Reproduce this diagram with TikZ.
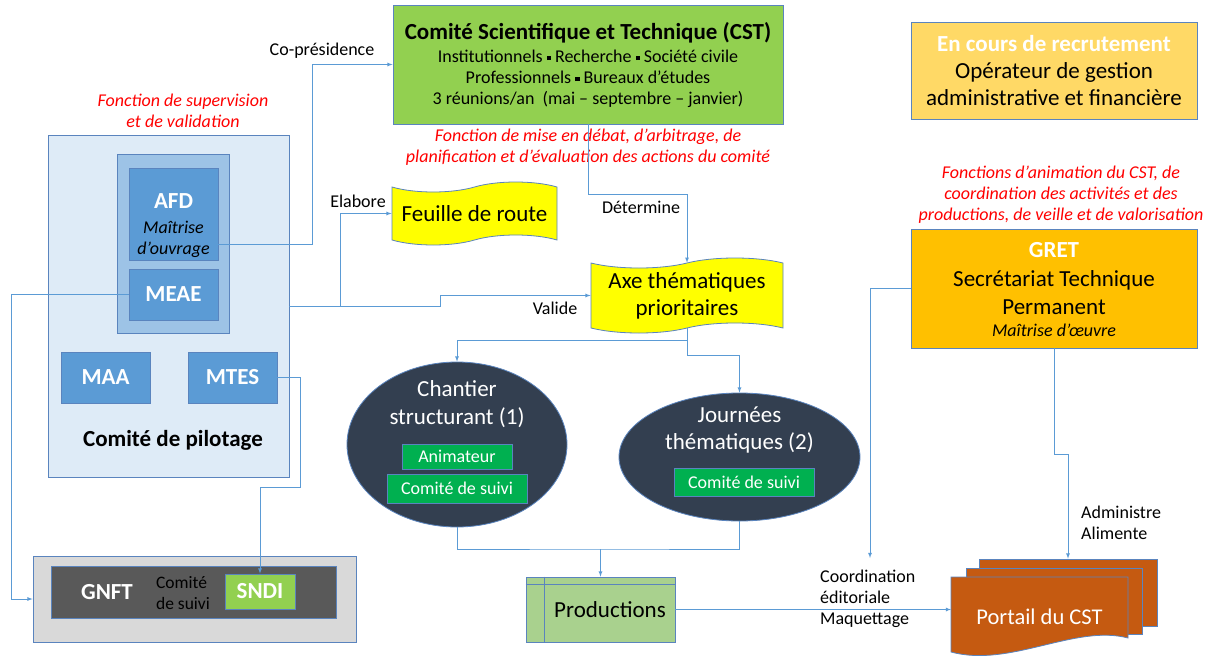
\documentclass[tikz,border=0pt]{standalone}
\usepackage{fontspec}
\setmainfont{Carlito}
\usetikzlibrary{shapes,backgrounds,arrows,positioning}

\definecolor{bord}{RGB}{90,132,190}
\definecolor{bleulien}{RGB}{91,155,213}
\definecolor{copilfond}{RGB}{222,235,247}
\definecolor{copilmid}{RGB}{157,195,230}
\definecolor{bleu}{RGB}{91,155,213}
\definecolor{vert}{RGB}{146,208,80}
\definecolor{jaune}{RGB}{255,255,0}
\definecolor{marine}{RGB}{51,63,80}
\definecolor{vertfonce}{RGB}{0,176,80}
\definecolor{vertclair}{RGB}{169,209,142}
\definecolor{orange}{RGB}{197,90,17}
\definecolor{ambre}{RGB}{255,192,0}
\definecolor{jaunepale}{RGB}{255,217,102}
\definecolor{grisclair}{RGB}{217,217,217}
\definecolor{grisfonce}{RGB}{89,89,89}

\newcommand\carre{\raisebox{2pt}{\rule{4.2pt}{4.2pt}}}

\tikzset{
  boite/.style={draw=bord,line width=0.8pt,inner sep=0pt,align=center},
  lien/.style={draw=bleulien,line width=0.8pt},
  fleche/.style={lien,-latex},
  texte/.style={inner sep=0pt,font=\fontsize{18}{21}\selectfont},
  grand/.style={inner sep=0pt,align=center,font=\fontsize{23}{27}\selectfont},
  gras/.style={inner sep=0pt,font=\bfseries\fontsize{23}{27}\selectfont},
  blanc/.style={gras,text=white},
  rouge/.style={inner sep=0pt,align=center,text=red,font=\itshape\fontsize{18}{21}\selectfont},
  italique/.style={inner sep=0pt,align=center,font=\itshape\fontsize{18}{21}\selectfont},
}

\begin{document}
\begin{tikzpicture}[x=1pt,y=-1pt]
\path[use as bounding box,fill=white] (0,0) rectangle (1211,656);

% comite de pilotage
\node[boite,fill=copilfond,minimum width=241pt,minimum height=342pt] (copil) at (168.5,306) {};
\node[boite,fill=copilmid,minimum width=112pt,minimum height=179pt] (copilin) at (173,243.5) {};
\node[boite,fill=bleu,minimum width=89pt,minimum height=92pt] (AFD) at (173.5,214) {};
\node[blanc] (AFD-t) at (173.5,201) {AFD};
\node[italique] (AFD-m) at (173.5,239.5) {Maîtrise\\d’ouvrage};
\foreach \x/\y/\name in {173.5/294.5/MEAE,105.5/377.5/MAA,232.5/377.5/MTES}{
    \node[boite,fill=bleu,minimum width=89pt,minimum height=51pt,blanc,name=\name] at (\x,\y) {\name};
}
\node[gras] (copil-t) at (173,440) {Comité de pilotage};
\node[rouge] (copil-r) at (183,110.5) {Fonction de supervision\\et de validation};

% CST
\node[boite,fill=vert,minimum width=390pt,minimum height=119pt] (CST) at (588,64.5) {};
\node[gras] (CST-t) at (588,33) {Comité Scientifique et Technique (CST)};
\node[texte,align=center] (CST-m) at (588,78.5) {Institutionnels \carre{} Recherche \carre{} Société civile\\Professionnels \carre{} Bureaux d’études\\3 réunions/an~ (mai – septembre – janvier)};
\node[rouge] (CST-r) at (588,147.5) {Fonction de mise en débat, d’arbitrage, de\\planification et d’évaluation des actions du comité};

% feuille de route, axes
\node[tape,boite,fill=jaune,minimum width=165pt,minimum height=63pt,tape bend height=10pt,grand] (feuille) at (474.5,213.5) {Feuille de route};
\node[tape,boite,fill=jaune,minimum width=192pt,minimum height=75pt,tape bend height=10pt,grand] (axe) at (687,295.5) {Axe thématiques\\prioritaires};

% chantiers
\node[ellipse,draw=bord,line width=0.8pt,fill=marine,minimum width=220pt,minimum height=165pt] (chantier) at (457,444.5) {};
\node[grand,text=white,font=\fontsize{23}{28}\selectfont] (chantier-t) at (457,404) {Chantier\\structurant (1)};
\node[boite,fill=vertfonce,text=white,texte,minimum width=110pt,minimum height=25pt] (animateur) at (457,456.5) {Animateur};
\node[boite,fill=vertfonce,text=white,texte,minimum width=140pt,minimum height=29pt] (suivi1) at (457,488.5) {Comité de suivi};
\node[ellipse,draw=bord,line width=0.8pt,fill=marine,minimum width=241pt,minimum height=128pt] (journees) at (739.5,457) {};
\node[grand,text=white] (journees-t) at (739.5,429.5) {Journées\\thématiques (2)};
\node[boite,fill=vertfonce,text=white,texte,minimum width=140pt,minimum height=28pt] (suivi2) at (744,482) {Comité de suivi};

% productions
\node[boite,fill=vertclair,minimum width=149pt,minimum height=65pt,font=\fontsize{23}{27}\selectfont] (prod) at (600.5,609.5) {\hspace*{19pt}Productions};
\draw[bord,line width=0.8pt] ([yshift=-8pt]prod.north west) -- ([yshift=-8pt]prod.north east);
\draw[bord,line width=0.8pt] ([xshift=19pt]prod.north west) -- ([xshift=19pt]prod.south west);

% portail
\node[boite,fill=orange,minimum width=178pt,minimum height=67pt] (portailc) at (1068,592.5) {};
\node[boite,fill=orange,minimum width=176pt,minimum height=66pt] (portailb) at (1054,601) {};
\coordinate (pa) at (951,577);
\coordinate (pb) at (1128,577);
\draw[bord,line width=0.8pt,fill=orange] (pa) -- (pb) -- (1128,638) .. controls (1075,624) and (1010,668) .. (951,652) -- cycle;
\node[grand,text=white,font=\fontsize{22.5}{27}\selectfont] (portail) at (1039.5,617) {Portail du CST};

% GRET, recrutement
\node[boite,fill=jaunepale,minimum width=286pt,minimum height=97pt] (recrut) at (1054,70.5) {};
\node[blanc] (recrut-t) at (1054,44) {En cours de recrutement};
\node[grand] (recrut-m) at (1054,84.5) {Opérateur de gestion\\administrative et financière};
\node[boite,fill=ambre,minimum width=286pt,minimum height=119pt] (GRET) at (1054,288.5) {};
\node[blanc] (GRET-t) at (1054,250) {GRET};
\node[grand,font=\fontsize{23}{28}\selectfont] (GRET-m) at (1054,293) {Secrétariat Technique\\Permanent};
\node[italique] (GRET-i) at (1054,330) {Maîtrise d’œuvre};
\node[rouge] (GRET-r) at (1061,195) {Fonctions d’animation du CST, de\\coordination des activités et des\\productions, de veille et de valorisation};

% GNFT
\node[boite,fill=grisclair,minimum width=323pt,minimum height=86pt] (gnftout) at (194.5,599) {};
\node[boite,fill=grisfonce,minimum width=285pt,minimum height=52pt] (gnftin) at (193.5,592) {};
\node[blanc] (GNFT) at (107,592) {GNFT};
\node[texte,align=left,font=\fontsize{17.5}{21}\selectfont] (GNFT-s) at (183,593.5) {Comité\\de suivi};
\node[boite,fill=vert,blanc,minimum width=70pt,minimum height=35pt] (SNDI) at (260,591.5) {SNDI};

% liens
\draw[fleche] ([yshift=-30pt]AFD.east) -- ++(94,0) |- (CST.west);
\draw[fleche] (copil.east) -- (340,306) |- (feuille.west);
\draw[fleche] (copil.east) -- (440,306) |- (axe.west);
\draw[fleche] (CST.south) -- ++(0,70) -| (axe.north);
\draw[fleche] (axe.south) -- ++(0,12) -| (chantier.north);
\draw[fleche] (axe.south) -- ++(0,27) -| (journees.north);
\coordinate (merge) at (600.5,549);
\draw[lien] (chantier.south) |- (merge) -| (journees.south);
\draw[fleche] (merge) -- (prod.north);
\draw[fleche] (prod.east) -- (prod.east -| pa);
\coordinate (coordtop) at (870,558);
\draw[fleche] (GRET.west) -| (coordtop);
\draw[fleche] (GRET.south) -- ++(0,106) -| (portailc.north);
\draw[fleche] (MEAE.west) -- ++(-117,0) |- (gnftout.west);
\draw[fleche] (MTES.east) -- ++(23,0) -- ++(0,110) -| (SNDI.north);

% etiquettes
\node[texte] (copres) at (322,51) {Co-présidence};
\node[texte] (elabore) at (358,201) {Elabore};
\node[texte] (valide) at (555,308) {Valide};
\node[texte] (determine) at (641,207) {Détermine};
\node[texte,align=left,anchor=west] (coord) at (820,599) {Coordination\\éditoriale\\Maquettage};
\node[texte,align=left,anchor=west] (admin) at (1081,522.5) {Administre\\Alimente};
\end{tikzpicture}
\end{document}
